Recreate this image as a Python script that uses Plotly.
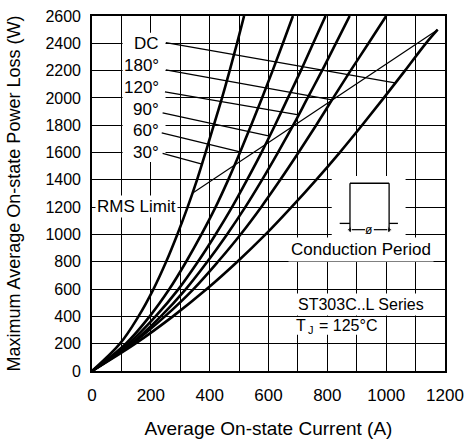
import plotly.graph_objects as go

# ---- data ----
power_levels = [0, 200, 400, 600, 800, 1000, 1200, 1400, 1600, 1800, 2000, 2200, 2400, 2600]
cur_30 = [0, 95, 158, 209, 252, 290, 325, 357, 386, 414, 442, 468, 493, 517]
cur_60 = [0, 115, 196, 263, 320, 372, 420, 463, 503, 541, 578, 614, 649, 683]
cur_90 = [0, 124, 216, 294, 360, 420, 476, 527, 576, 622, 666, 710, 752, 794]
cur_120 = [0, 133, 234, 319, 392, 459, 521, 578, 632, 684, 733, 782, 829, 876]
cur_180 = [0, 137, 248, 345, 428, 505, 575, 640, 702, 762, 820, 879, 940, 1000]
power_dc = [0, 200, 400, 600, 800, 1000, 1200, 1400, 1600, 1800, 2000, 2200, 2400, 2500]
cur_dc = [0, 147, 275, 390, 494, 590, 678, 762, 842, 918, 992, 1064, 1135, 1175]

labels = ["DC", "180°", "120°", "90°", "60°", "30°"]
label_power = [2400, 2236, 2078, 1916, 1762, 1601]
leader_start_I = [251, 251, 248, 240, 237, 240]
leader_start_P = [2405, 2206, 2045, 1891, 1744, 1593]
leader_end_I = [1030, 816, 702, 604, 503, 374]
leader_end_P = [2110, 1986, 1876, 1721, 1604, 1516]

rms_I = [340, 1175]
rms_P = [1300, 2500]

x_ticks = [0, 200, 400, 600, 800, 1000, 1200]
y_ticks = list(range(0, 2601, 200))

FONT = "Liberation Sans, Arial, sans-serif"

fig = go.Figure()

for cur, pw in [(cur_30, power_levels), (cur_60, power_levels), (cur_90, power_levels),
                (cur_120, power_levels), (cur_180, power_levels), (cur_dc, power_dc)]:
    fig.add_trace(go.Scatter(x=cur, y=pw, mode="lines", line=dict(color="black", width=2.6),
                             line_shape="spline", hoverinfo="skip", showlegend=False))

for i in range(len(labels)):
    fig.add_trace(go.Scatter(x=[leader_start_I[i], leader_end_I[i]],
                             y=[leader_start_P[i], leader_end_P[i]],
                             mode="lines", line=dict(color="black", width=1.3),
                             hoverinfo="skip", showlegend=False))

fig.add_trace(go.Scatter(x=rms_I, y=rms_P, mode="lines", line=dict(color="black", width=1.2),
                         hoverinfo="skip", showlegend=False))

# phi dimension arrows of the conduction-period sketch
fig.add_trace(go.Scatter(x=[877, 928], y=[1035, 1035], mode="lines+markers",
                         line=dict(color="black", width=1.2),
                         marker=dict(symbol=["triangle-left", "circle"], size=[6, 0], color="black"),
                         hoverinfo="skip", showlegend=False))
fig.add_trace(go.Scatter(x=[958, 1010], y=[1035, 1035], mode="lines+markers",
                         line=dict(color="black", width=1.2),
                         marker=dict(symbol=["circle", "triangle-right"], size=[0, 6], color="black"),
                         hoverinfo="skip", showlegend=False))

shapes = []
# white masks over the grid
shapes.append(dict(type="rect", xref="x", yref="y", x0=104, x1=250, y0=1530, y1=2478,
                   fillcolor="white", line=dict(width=0), layer="between"))
shapes.append(dict(type="rect", xref="x", yref="y", x0=815, x1=1066, y0=973, y1=1428,
                   fillcolor="white", line=dict(width=0), layer="between"))
shapes.append(dict(type="rect", xref="x", yref="y", x0=685, x1=920, y0=265, y1=395,
                   fillcolor="white", line=dict(width=0), layer="between"))
# conduction period pulse
pk = dict(type="line", xref="x", yref="y", line=dict(color="black", width=1.3))
shapes += [
    dict(pk, x0=877, x1=877, y0=1022, y1=1375),
    dict(pk, x0=1010, x1=1010, y0=1022, y1=1375),
    dict(pk, x0=877, x1=1010, y0=1375, y1=1375),
    dict(pk, x0=842, x1=877, y0=1081, y1=1081),
    dict(pk, x0=1010, x1=1040, y0=1081, y1=1081),
]

annotations = []
for i, t in enumerate(labels):
    annotations.append(dict(x=233, y=label_power[i], xref="x", yref="y", text=t,
                            showarrow=False, xanchor="right", yanchor="middle",
                            font=dict(family=FONT, size=17, color="black")))
annotations.append(dict(x=150, y=1208, xref="x", yref="y", text="RMS Limit", showarrow=False,
                        xanchor="center", yanchor="middle", bgcolor="white", borderpad=1,
                        font=dict(family=FONT, size=17, color="black")))
annotations.append(dict(x=915, y=892, xref="x", yref="y", text="Conduction Period", showarrow=False,
                        xanchor="center", yanchor="middle", bgcolor="white", borderpad=2,
                        font=dict(family=FONT, size=17, color="black")))
annotations.append(dict(x=689, y=488, xref="x", yref="y", text="ST303C..L Series", showarrow=False,
                        xanchor="left", yanchor="middle", bgcolor="white", borderpad=2,
                        font=dict(family=FONT, size=16, color="black")))
annotations.append(dict(x=689, y=334, xref="x", yref="y", text="T", showarrow=False,
                        xanchor="left", yanchor="middle", borderpad=0,
                        font=dict(family=FONT, size=16, color="black")))
annotations.append(dict(x=731, y=298, xref="x", yref="y", text="J", showarrow=False,
                        xanchor="left", yanchor="middle", borderpad=0,
                        font=dict(family=FONT, size=11, color="black")))
annotations.append(dict(x=767, y=334, xref="x", yref="y", text="= 125°C", showarrow=False,
                        xanchor="left", yanchor="middle", borderpad=0,
                        font=dict(family=FONT, size=16, color="black")))
annotations.append(dict(x=943, y=1035, xref="x", yref="y", text="ø", showarrow=False,
                        xanchor="center", yanchor="middle",
                        font=dict(family=FONT, size=12, color="black")))

fig.update_layout(
    width=467, height=439,
    margin=dict(l=92, r=22, t=16, b=68),
    paper_bgcolor="white", plot_bgcolor="white",
    shapes=shapes, annotations=annotations,
    showlegend=False,
    xaxis=dict(range=[0, 1200], tickvals=x_ticks, ticktext=[str(v) for v in x_ticks],
               title=dict(text="Average On-state Current (A)", standoff=19,
                          font=dict(family=FONT, size=19, color="black")),
               automargin=False,
               showgrid=True, gridcolor="black", gridwidth=1.3,
               minor=dict(dtick=100, tick0=0, showgrid=True, gridcolor="black", gridwidth=1.3),
               showline=True, linecolor="black", linewidth=1.6, mirror=True,
               ticks="", ticklabelstandoff=8, zeroline=False,
               tickfont=dict(family=FONT, size=17, color="black")),
    yaxis=dict(range=[0, 2600], tickvals=y_ticks, ticktext=[str(v) for v in y_ticks],
               title=dict(text="Maximum Average On-state Power Loss (W)", standoff=20,
                          font=dict(family=FONT, size=18, color="black")),
               automargin=False,
               showgrid=True, gridcolor="black", gridwidth=1.3,
               showline=True, linecolor="black", linewidth=1.6, mirror=True,
               ticks="", ticklabelstandoff=6, zeroline=False,
               tickfont=dict(family=FONT, size=16, color="black")),
)

fig.write_html("out.html")
